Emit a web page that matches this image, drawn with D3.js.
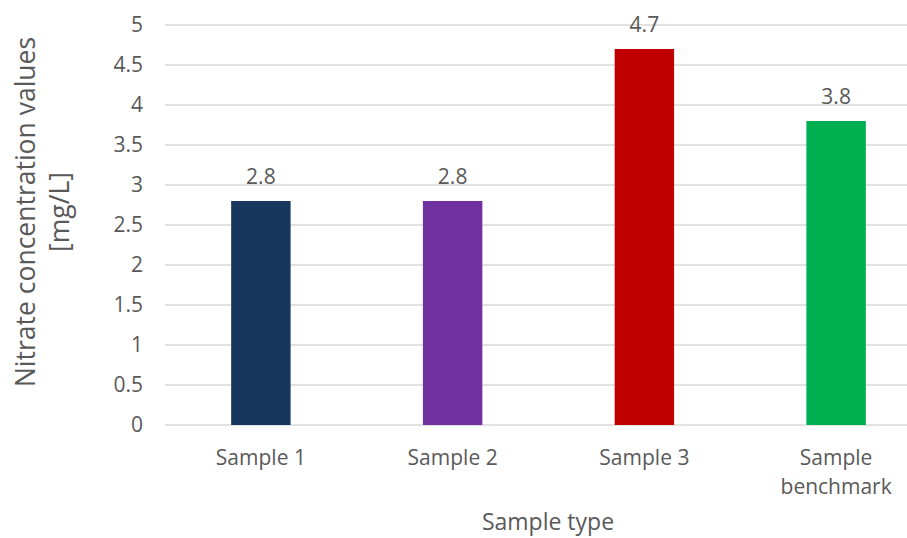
<!DOCTYPE html>
<html>
<head>
<meta charset="utf-8">
<script src="https://cdn.jsdelivr.net/npm/d3@7"></script>
<style>
  html, body { margin: 0; padding: 0; background: #fff; }
  svg { display: block; font-family: "Open Sans", sans-serif; }
</style>
</head>
<body>
<svg id="chart" width="907" height="538"></svg>
<script>
// Nitrate concentration per sample
const categories = ["Sample 1", "Sample 2", "Sample 3", "Sample benchmark"];
const values = [2.8, 2.8, 4.7, 3.8];
const barColors = ["#17375E", "#7030A0", "#C00000", "#00B050"];
const yTicks = [0, 0.5, 1, 1.5, 2, 2.5, 3, 3.5, 4, 4.5, 5];

const svg = d3.select("#chart");
const textColor = "#595959";

const x = d3.scaleBand()
  .domain(categories)
  .range([165, 932])
  .paddingInner(0.69)
  .paddingOuter(0.345);

const y = d3.scaleLinear().domain([0, 5]).range([425, 25]);

// horizontal gridlines
svg.append("g")
  .selectAll("line")
  .data(yTicks)
  .join("line")
  .attr("x1", 165).attr("x2", 907)
  .attr("y1", d => y(d)).attr("y2", d => y(d))
  .attr("stroke", "#D9D9D9")
  .attr("stroke-width", 1.3);

// y axis tick labels
const yAxis = d3.axisLeft(y).tickValues(yTicks).tickSize(0).tickPadding(0)
  .tickFormat(d => String(d));
const gy = svg.append("g").attr("transform", "translate(143,0)").call(yAxis);
gy.select(".domain").remove();
gy.selectAll("text")
  .attr("fill", textColor)
  .style("font-size", "21px")
  .style("font-family", "Open Sans, sans-serif");

// bars
svg.append("g")
  .selectAll("rect")
  .data(values)
  .join("rect")
  .attr("x", (d, i) => x(categories[i]))
  .attr("width", x.bandwidth())
  .attr("y", d => y(d))
  .attr("height", d => y(0) - y(d))
  .attr("fill", (d, i) => barColors[i]);

// value labels above bars
svg.append("g")
  .selectAll("text")
  .data(values)
  .join("text")
  .attr("x", (d, i) => x(categories[i]) + x.bandwidth() / 2)
  .attr("y", d => y(d) - 17)
  .attr("text-anchor", "middle")
  .attr("fill", textColor)
  .style("font-size", "21px")
  .text(d => d.toFixed(1));

// x axis category labels (wrapped)
const xAxis = d3.axisBottom(x).tickSize(0).tickPadding(0).tickFormat("");
const gx = svg.append("g").attr("transform", "translate(0,425)").call(xAxis);
gx.select(".domain").remove();
gx.selectAll(".tick").each(function (d) {
  const words = d === "Sample benchmark" ? ["Sample", "benchmark"] : [d];
  const t = d3.select(this).append("text")
    .attr("text-anchor", "middle")
    .attr("fill", textColor)
    .style("font-size", "21px")
    .style("font-family", "Open Sans, sans-serif");
  words.forEach((w, k) => {
    t.append("tspan").attr("x", 0).attr("y", 40 + k * 29).text(w);
  });
});

// axis titles
svg.append("text")
  .attr("transform", "translate(0,212) rotate(-90)")
  .attr("text-anchor", "middle")
  .attr("fill", textColor)
  .style("font-size", "26.5px")
  .selectAll("tspan")
  .data(["Nitrate concentration values", "[mg/L]"])
  .join("tspan")
  .attr("x", 0)
  .attr("y", (d, i) => 35 + i * 34)
  .text(d => d);

svg.append("text")
  .attr("x", 548)
  .attr("y", 530)
  .attr("text-anchor", "middle")
  .attr("fill", textColor)
  .style("font-size", "23px")
  .text("Sample type");
</script>
</body>
</html>
